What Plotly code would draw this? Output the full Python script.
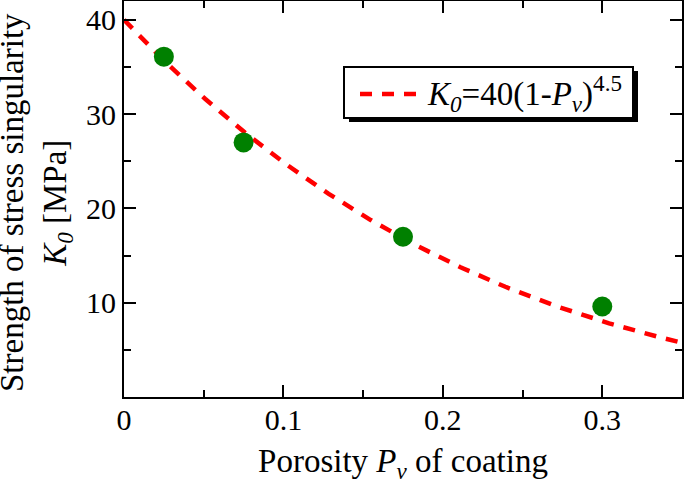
import numpy as np
import plotly.graph_objects as go

# measured data
porosity = [0.025, 0.075, 0.175, 0.30]
k0_values = [36.1, 27.0, 17.0, 9.6]

# fitted curve parameters shown in the legend: K0 = 40 (1 - Pv)^4.5
fit_coef = 40.0
fit_exp = 4.5
fit_x = np.linspace(0, 0.35, 200)
fit_y = fit_coef * (1 - fit_x) ** fit_exp

x_ticks = [0, 0.1, 0.2, 0.3]
x_ticktext = ["0", "0.1", "0.2", "0.3"]
y_ticks = [10, 20, 30, 40]
legend_label = "<i>K<sub>0</sub></i>=40(1-<i>P<sub>v</sub></i>)<sup>4.5</sup>"
x_title = "Porosity <i>P<sub>v</sub></i> of coating"
y_title = "Strength of stress singularity<br><i>K<sub>0</sub></i> [MPa]"

FONT = "Liberation Serif"
W, H = 685, 484
ML, MR, MT, MB = 124, 3, 1, 87
PW, PH = W - ML - MR, H - MT - MB


def px(xpix):
    return (xpix - ML) / PW


def py(ypix):
    return (H - MB - ypix) / PH


fig = go.Figure()
fig.add_trace(go.Scatter(
    x=fit_x, y=fit_y, mode="lines",
    line=dict(color="#ff0000", width=4.5, dash="12px,10px"),
    name=legend_label, showlegend=False,
))
fig.add_trace(go.Scatter(
    x=porosity, y=k0_values, mode="markers",
    marker=dict(color="#008000", size=20),
    showlegend=False,
))

axis_common = dict(
    showline=True, linecolor="black", linewidth=2, mirror="ticks",
    ticks="inside", ticklen=12, tickwidth=2, tickcolor="black",
    showgrid=False, zeroline=False, automargin=False,
    tickfont=dict(family=FONT, size=30, color="black"),
)

fig.update_xaxes(
    range=[0, 0.35], tickvals=x_ticks, ticktext=x_ticktext,
    ticklabelstandoff=-5,
    minor=dict(dtick=0.05, ticks="inside", ticklen=7, tickwidth=2, tickcolor="black", showgrid=False),
    title=dict(text=x_title, font=dict(family=FONT, size=33, color="black"), standoff=21),
    **axis_common,
)
fig.update_yaxes(
    range=[0, 42], tickvals=y_ticks,
    minor=dict(dtick=5, ticks="inside", ticklen=7, tickwidth=2, tickcolor="black", showgrid=False),
    **axis_common,
)

# y-axis title (two lines, rotated)
fig.add_annotation(
    xref="paper", yref="paper", x=px(36), y=py(203),
    xanchor="center", yanchor="middle", showarrow=False, textangle=-90,
    text=y_title, font=dict(family=FONT, size=33, color="black"),
)

# legend box: shadow, frame, dashed key line, label
box_l, box_r, box_t, box_b = 344, 633, 67, 118
fig.add_shape(type="rect", xref="paper", yref="paper",
              x0=px(box_l + 5), x1=px(box_r + 5), y0=py(box_b + 4), y1=py(box_t + 4),
              fillcolor="black", line=dict(width=0), layer="above")
fig.add_shape(type="rect", xref="paper", yref="paper",
              x0=px(box_l), x1=px(box_r), y0=py(box_b), y1=py(box_t),
              fillcolor="white", line=dict(color="black", width=2), layer="above")
fig.add_shape(type="line", xref="paper", yref="paper",
              x0=px(360), x1=px(422), y0=py(94), y1=py(94),
              line=dict(color="#ff0000", width=4.5, dash="12px,10px"), layer="above")
fig.add_annotation(
    xref="paper", yref="paper", x=px(425), y=py(93),
    xanchor="left", yanchor="middle", showarrow=False,
    text=legend_label, font=dict(family=FONT, size=33, color="black"),
)

fig.update_layout(
    width=W, height=H,
    margin=dict(l=ML, r=MR, t=MT, b=MB),
    plot_bgcolor="white", paper_bgcolor="white",
    showlegend=False,
)

fig.write_html("out.html", config={"displayModeBar": False},
               post_script="document.body.style.margin='0';")
